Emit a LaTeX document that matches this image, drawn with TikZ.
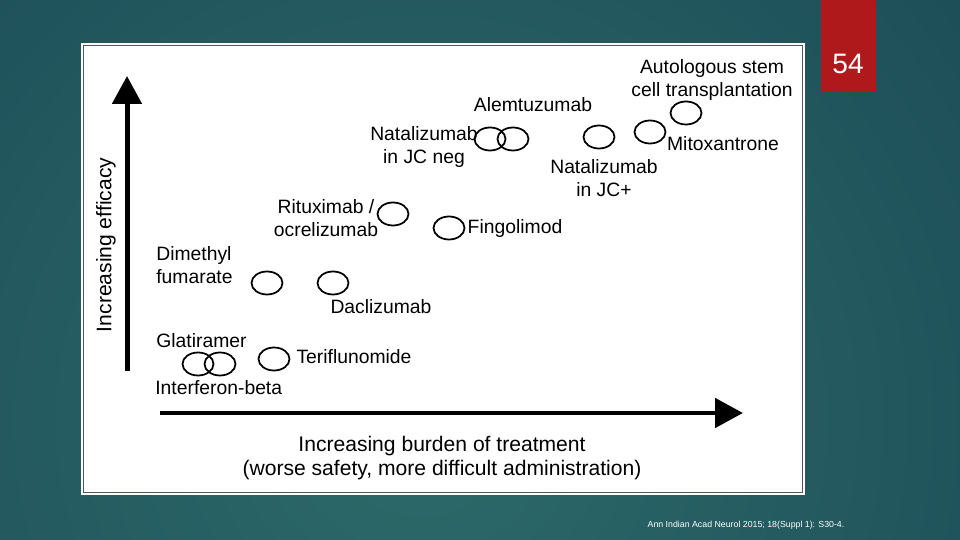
\documentclass[tikz,border=0pt]{standalone}
\usepackage{fontspec}
\setmainfont{Liberation Sans}
\usetikzlibrary{shapes.geometric,arrows.meta}
\definecolor{bgdark}{HTML}{113A4B}
\definecolor{bglight}{HTML}{2D6A6A}
\definecolor{slidered}{HTML}{B0191B}
\definecolor{panelline}{HTML}{555555}

\begin{document}
\begin{tikzpicture}[x=0.02cm, y=-0.02cm,
  pill/.style={draw, ellipse, line width=1pt, minimum width=0.62cm, minimum height=0.46cm, inner sep=0pt},
  lbl/.style={inner sep=0pt, font=\fontsize{11}{13}\selectfont, align=center},
  axislbl/.style={inner sep=0pt, font=\fontsize{12}{13.6}\selectfont, align=center},
  axis/.style={line width=0.1cm, -{Triangle[width=0.58cm, length=0.56cm]}}]
\useasboundingbox (0,0) rectangle (960,540);
\fill[bgdark] (0,0) rectangle (960,540); % background
\begin{scope}
\clip (0,0) rectangle (960,540);
\shade[inner color=bglight, outer color=bgdark] (420,420) circle (1200); % glow
\end{scope}

\draw[white, line width=0.6pt] (82,44) rectangle (804,494); % panel rim
\draw[panelline, fill=white, line width=0.6pt] (83.5,45.5) rectangle (802.5,492.5); % panel

\fill[slidered] (821,0) rectangle (876,91); % number tab
\node[text=white, inner sep=0pt, font=\fontsize{16}{16}\selectfont] (slideno) at (848,64) {54}; % number

% axes
\coordinate (ybot) at (127,371);
\coordinate (ytop) at (127,76);
\draw[axis] (ybot) -- (ytop); % efficacy axis
\coordinate (xleft) at (160,413);
\coordinate (xright) at (743,413);
\draw[axis] (xleft) -- (xright); % burden axis
\node[axislbl, rotate=90] (ylabel) at (106,245) {Increasing efficacy}; % y label
\node[axislbl] (xlabel) at (442,458) {Increasing burden of treatment\\(worse safety, more difficult administration)}; % x label

% drugs
\node[pill] (autoe) at (686,113) {};
\node[lbl] (auto) at (712,80) {Autologous stem\\cell transplantation};
\node[pill] (mitoe) at (650,132) {};
\node[lbl] (mito) at (723,144) {Mitoxantrone};
\node[pill] (natpose) at (599,137) {};
\node[lbl] (natpos) at (604,178) {Natalizumab\\in JC+};
\node[pill] (aleme) at (513,139) {};
\node[pill] (natnege) at (490,139) {};
\node[lbl] (alem) at (533,105) {Alemtuzumab};
\node[lbl] (natneg) at (424,147) {Natalizumab\\in JC neg};
\node[pill] (rituxe) at (393,214) {};
\node[lbl] (ritux) at (326,218) {Rituximab /\\ocrelizumab};
\node[pill] (fingoe) at (449,228) {};
\node[lbl] (fingo) at (515,229) {Fingolimod};
\node[pill] (dmfe) at (267,283) {};
\node[lbl, anchor=west, align=left] (dmf) at (156,265) {Dimethyl\\fumarate};
\node[pill] (daclie) at (333,283) {};
\node[lbl] (dacli) at (381,307) {Daclizumab};
\node[pill] (glate) at (198,364) {};
\node[pill] (ifne) at (220,364) {};
\node[lbl, anchor=west] (glat) at (156,341) {Glatiramer};
\node[lbl, anchor=west] (ifn) at (155,388) {Interferon-beta};
\node[pill] (terie) at (274,359) {};
\node[lbl] (teri) at (354,357) {Teriflunomide};

\node[text=white, inner sep=0pt, font=\fontsize{5}{5}\selectfont] (cite) at (746,525) {Ann Indian Acad Neurol 2015; 18(Suppl 1): S30-4.}; % source
\end{tikzpicture}
\end{document}
